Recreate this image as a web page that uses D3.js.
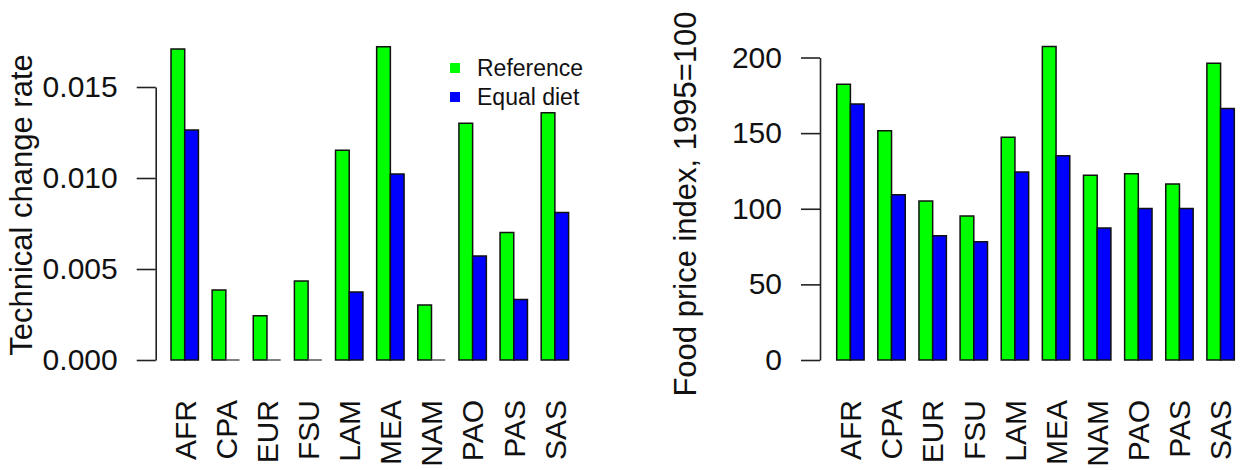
<!DOCTYPE html>
<html>
<head>
<meta charset="utf-8">
<script src="https://cdn.jsdelivr.net/npm/d3@7"></script>
<style>
  html, body { margin: 0; padding: 0; background: #fff; }
  svg { display: block; font-family: "Liberation Sans", Arial, Helvetica, sans-serif; }
</style>
</head>
<body>
<svg id="chart" width="1241" height="470"></svg>
<script>
const regions = ["AFR", "CPA", "EUR", "FSU", "LAM", "MEA", "NAM", "PAO", "PAS", "SAS"];
const seriesNames = ["Reference", "Equal diet"];
const seriesColors = ["#00ff00", "#0000ff"];

const techReference = [0.01709, 0.00385, 0.00243, 0.00434, 0.01152, 0.01721, 0.00302, 0.01301, 0.00701, 0.01359];
const techEqualDiet = [0.01264, 0, 0, 0, 0.00374, 0.01022, 0, 0.00571, 0.00333, 0.00811];
const techTicks = [0, 0.005, 0.010, 0.015];

const priceReference = [182.3, 151.5, 105.2, 95.2, 147.3, 207.2, 122.2, 123.2, 116.4, 196.2];
const priceEqualDiet = [169.3, 109.3, 82.2, 78.2, 124.3, 135.1, 87.3, 100.1, 100.1, 166.2];
const priceTicks = [0, 50, 100, 150, 200];

const svg = d3.select("#chart");

function panel(opts) {
  const g = svg.append("g");
  const y = d3.scaleLinear().domain(opts.yDomain).range([360, opts.yTop]);
  const x = d3.scaleBand().domain(regions).range([opts.xLeft, opts.xRight]).paddingInner(1 / 3).paddingOuter(0);
  const xs = d3.scaleBand().domain(seriesNames).range([0, x.bandwidth()]);

  // axis
  const axis = d3.axisLeft(y).tickValues(opts.ticks).tickFormat(opts.fmt)
    .tickSize(19).tickSizeOuter(0).tickPadding(19);
  const ag = g.append("g").attr("transform", `translate(${opts.axisX},0)`).call(axis);
  ag.select(".domain").attr("stroke", "#222").attr("stroke-width", 1.6);
  ag.selectAll(".tick line").attr("stroke", "#222").attr("stroke-width", 1.6);
  ag.selectAll(".tick text").attr("font-size", 30).attr("fill", "#111")
    .attr("font-family", "Liberation Sans, Arial, sans-serif");

  // bars
  const rows = [];
  regions.forEach((r, i) => {
    opts.series.forEach((vals, s) => {
      rows.push({ region: r, name: seriesNames[s], value: vals[i], color: seriesColors[s] });
    });
  });
  g.selectAll("path.bar").data(rows).enter().append("path")
    .attr("class", "bar")
    .attr("d", d => {
      const x0 = x(d.region) + xs(d.name);
      const x1 = x0 + xs.bandwidth();
      const y0 = y(0), y1 = y(d.value);
      return `M${x0},${y0}H${x1}V${y1}H${x0}Z`;
    })
    .attr("fill", d => d.color)
    .attr("stroke", d => d.value === 0 ? "#555" : "#111")
    .attr("stroke-width", 1.5);

  // x labels
  g.selectAll("text.xl").data(regions).enter().append("text")
    .attr("class", "xl")
    .attr("transform", d => `translate(${x(d) + x.bandwidth() / 2},400) rotate(-90)`)
    .attr("text-anchor", "end")
    .attr("dy", "0.36em")
    .attr("font-size", 30)
    .attr("fill", "#111")
    .text(d => d);

  // y title
  g.append("text")
    .attr("transform", `translate(${opts.titleX},${opts.titleY}) rotate(-90)`)
    .attr("text-anchor", "middle")
    .attr("font-size", 31)
    .attr("fill", "#111")
    .text(opts.title);
  return { g, x, y };
}

panel({
  yDomain: [0, 0.015], yTop: 87, ticks: techTicks, fmt: d3.format(".3f"),
  xLeft: 171, xRight: 568.6, axisX: 155.7,
  series: [techReference, techEqualDiet],
  title: "Technical change rate", titleX: 32, titleY: 205
});

panel({
  yDomain: [0, 200], yTop: 57.5, ticks: priceTicks, fmt: d3.format("d"),
  xLeft: 836.7, xRight: 1234.3, axisX: 820,
  series: [priceReference, priceEqualDiet],
  title: "Food price index,  1995=100", titleX: 696, titleY: 204
});

// legend
const legend = svg.append("g").attr("transform", "translate(450,0)");
seriesNames.forEach((n, i) => {
  const cy = 68 + i * 29;
  legend.append("rect").attr("x", 0).attr("y", cy - 5).attr("width", 10).attr("height", 10)
    .attr("fill", seriesColors[i]);
  legend.append("text").attr("x", 27).attr("y", cy).attr("dy", "0.36em")
    .attr("font-size", 23).attr("fill", "#111").text(n);
});
</script>
</body>
</html>
